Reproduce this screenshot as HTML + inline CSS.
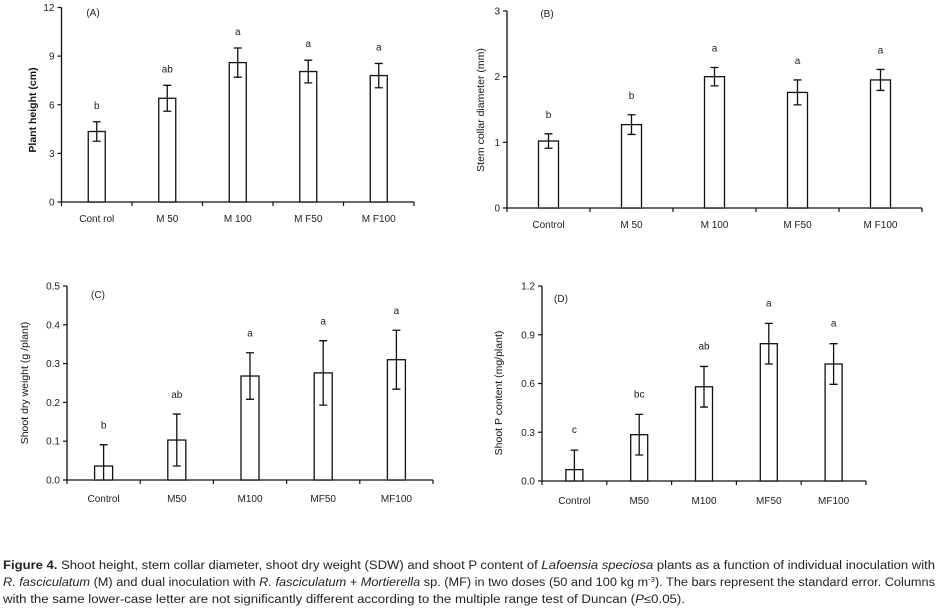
<!DOCTYPE html>
<html><head><meta charset="utf-8"><style>
body{margin:0;background:#fff;}
svg{display:block;font-family:"Liberation Sans",sans-serif;}
</style></head><body>
<svg id="fig" width="939" height="609" viewBox="0 0 939 609" xmlns="http://www.w3.org/2000/svg">
<g id="caption" font-size="11.5" fill="#222">
<text x="3" y="569" textLength="932" lengthAdjust="spacingAndGlyphs"><tspan font-weight="bold">Figure 4.</tspan> Shoot height, stem collar diameter, shoot dry weight (SDW) and shoot P content of <tspan font-style="italic">Lafoensia speciosa</tspan> plants as a function of individual inoculation with</text>
<text x="3" y="586" textLength="932" lengthAdjust="spacingAndGlyphs"><tspan font-style="italic">R. fasciculatum</tspan> (M) and dual inoculation with <tspan font-style="italic">R. fasciculatum</tspan> + <tspan font-style="italic">Mortierella</tspan> sp. (MF) in two doses (50 and 100 kg m<tspan font-size="7" dy="-4">-3</tspan><tspan dy="4">). The bars represent the standard error. Columns</tspan></text>
<text x="3" y="603" textLength="682" lengthAdjust="spacingAndGlyphs">with the same lower-case letter are not significantly different according to the multiple range test of Duncan (<tspan font-style="italic">P</tspan>≤0.05).</text>
</g>
</svg>
<script>
// Panel A
const catsA = ["Cont rol","M 50","M 100","M F50","M F100"];
const valsA = [4.35,6.4,8.6,8.05,7.8];
const errsA = [0.6,0.8,0.9,0.7,0.75];
const letA = ["b","ab","a","a","a"];
const ticksA = [0,3,6,9,12];
// Panel B
const catsB = ["Control","M 50","M 100","M F50","M F100"];
const valsB = [1.02,1.27,2.0,1.76,1.95];
const errsB = [0.11,0.15,0.14,0.19,0.16];
const letB = ["b","b","a","a","a"];
const ticksB = [0,1,2,3];
// Panel C
const catsC = ["Control","M50","M100","MF50","MF100"];
const valsC = [0.036,0.103,0.268,0.276,0.31];
const errsC = [0.055,0.067,0.06,0.083,0.076];
const letC = ["b","ab","a","a","a"];
const ticksC = [0,0.1,0.2,0.3,0.4,0.5];
// Panel D
const catsD = ["Control","M50","M100","MF50","MF100"];
const valsD = [0.07,0.285,0.58,0.845,0.72];
const errsD = [0.12,0.125,0.125,0.125,0.125];
const letD = ["c","bc","ab","a","a"];
const ticksD = [0,0.3,0.6,0.9,1.2];

const NS="http://www.w3.org/2000/svg";
const svg=document.getElementById('fig');
function mk(tag,attrs,parent,txt){const e=document.createElementNS(NS,tag);for(const k in attrs)e.setAttribute(k,attrs[k]);if(txt!==undefined)e.textContent=txt;parent.appendChild(e);return e;}

function panel(o){
  const g=mk('g',{},svg);
  
  
  const n=o.cats.length, max=o.ticks[o.ticks.length-1];
  const y=v=>o.y0-(v/max)*(o.y0-o.yTop);
  const step=(o.xEnd-o.x0)/n;
  const xc=i=>o.x0+step*(i+0.5);
  const ax=mk('line',{x1:o.x0,y1:o.yTop,x2:o.x0,y2:o.y0,stroke:'#111','stroke-width':1.3},g);
  
  const bx=mk('line',{x1:o.x0,y1:o.y0,x2:o.xEnd,y2:o.y0,stroke:'#111','stroke-width':1.3},g);
  
  o.ticks.forEach(t=>{
    mk('line',{x1:o.x0-4,y1:y(t),x2:o.x0,y2:y(t),stroke:'#111','stroke-width':1.2},g);
    const tl=mk('text',{x:o.x0-7,y:y(t)+3.5,'font-size':10,'text-anchor':'end',fill:'#222'},g,o.fmt(t));
    
  });
  for(let i=0;i<=n;i++){const xx=o.x0+step*i;mk('line',{x1:xx,y1:o.y0,x2:xx,y2:o.y0+4,stroke:'#111','stroke-width':1.2},g);}
  o.cats.forEach((c,i)=>{
    const cx=xc(i),v=o.vals[i],e=o.errs[i];
    const lo=Math.max(0,v-e);
    const b=mk('rect',{x:cx-o.bw/2,y:y(v),width:o.bw,height:o.y0-y(v),fill:'#fff',stroke:'#111','stroke-width':1.3},g);
    
    
    let d=`M${cx},${y(v+e)}V${y(lo)}M${cx-4},${y(v+e)}H${cx+4}`;
    if(v-e>0) d+=`M${cx-4},${y(lo)}H${cx+4}`;
    const eg=mk('path',{d:d,stroke:'#111','stroke-width':1.3,fill:'none'},g);
    
    const lt=mk('text',{x:cx,y:y(v+e)-o.lg,'font-size':10,'text-anchor':'middle',fill:'#222'},g,o.lets[i]);
    
    const cl=mk('text',{x:cx,y:o.catY,'font-size':10,'text-anchor':'middle',fill:'#222'},g,c);
    
  });
  const pl=mk('text',{x:o.px,y:o.py,'font-size':10,'text-anchor':'middle',fill:'#222'},g,'('+o.id.toUpperCase()+')');
  
  const yl=mk('text',{x:0,y:0,'font-size':10.5,'text-anchor':'middle',fill:'#111','font-weight':o.bold?'bold':'normal',transform:`translate(${o.ylx},${o.yly}) rotate(-90)`},g,o.ylabel);
  
}
panel({id:'a',cats:catsA,vals:valsA,errs:errsA,lets:letA,ticks:ticksA,fmt:t=>String(t),x0:61.5,xEnd:414,yTop:7.5,y0:202,bw:17,lg:13,catY:222,px:93,py:16,ylabel:'Plant height (cm)',ylx:36,yly:110,bold:true});
panel({id:'b',cats:catsB,vals:valsB,errs:errsB,lets:letB,ticks:ticksB,fmt:t=>String(t),x0:507,xEnd:922,yTop:11,y0:208,bw:20,lg:16,catY:228,px:547,py:17,ylabel:'Stem collar diameter (mm)',ylx:484,yly:110});
panel({id:'c',cats:catsC,vals:valsC,errs:errsC,lets:letC,ticks:ticksC,fmt:t=>t.toFixed(1),x0:67,xEnd:433,yTop:286,y0:480,bw:18,lg:16,catY:502,px:98,py:298,ylabel:'Shoot dry weight (g /plant)',ylx:28,yly:383});
panel({id:'d',cats:catsD,vals:valsD,errs:errsD,lets:letD,ticks:ticksD,fmt:t=>t.toFixed(1),x0:542,xEnd:866,yTop:286,y0:481,bw:17,lg:17,catY:504,px:561,py:302,ylabel:'Shoot P content  (mg/plant)',ylx:502,yly:393});
</script>
</body></html>
